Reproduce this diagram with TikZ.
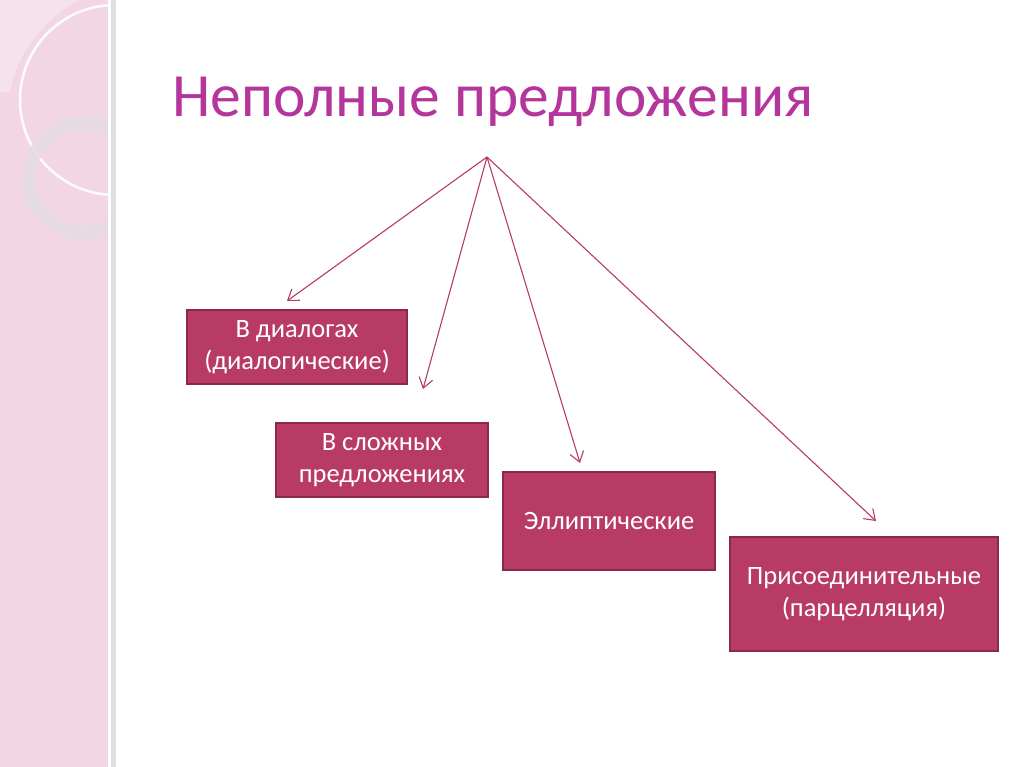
\documentclass[tikz,border=0pt]{standalone}
\usepackage{fontspec}
\setmainfont{Carlito}
\usetikzlibrary{arrows.meta}
\definecolor{boxfill}{HTML}{B83B66}
\definecolor{boxedge}{HTML}{8A2848}
\definecolor{titlecol}{HTML}{B4369C}
\definecolor{stripcol}{HTML}{F3D6E4}
\definecolor{ringcol}{HTML}{E6DCE3}
\tikzset{
  box/.style={draw=boxedge, line width=1.2pt, fill=boxfill, text=white, align=center,
    font=\fontsize{26.5}{32}\selectfont, inner sep=0pt},
  link/.style={draw=boxfill, line width=1.1pt, -{Straight Barb[length=10pt,width=14pt,line width=1.1pt]}},
}
\begin{document}
\begin{tikzpicture}[x=1pt,y=-1pt]
\useasboundingbox (0,0) rectangle (1024,767);
\fill[white] (0,0) rectangle (1024,767);
% left decorative strip
\fill[stripcol] (0,0) rectangle (110,767);
\begin{scope}
  \clip (0,0) rectangle (110,767);
  \fill[white, opacity=0.3] (0,0) -- (80,0) .. controls (40,20) and (15,60) .. (10,92) -- (0,92) -- cycle;
  \draw[white, line width=2.5pt, opacity=0.9] (115,100) circle[radius=95];
  \draw[ringcol, line width=14pt, opacity=0.85] (84,178) circle[radius=55];
\end{scope}
\fill[gray!25] (110,0) rectangle (116,767);
\fill[white] (108,0) rectangle (111,767);
% title
\node[anchor=base west, text=titlecol, font=\fontsize{61.5}{66}\selectfont, inner sep=0pt] (title) at (172,117) {Неполные предложения};
\coordinate (apex) at (487,157);
% boxes
\node[box, minimum width=220pt, minimum height=74pt] (b1) at (297,347) {В диалогах\\(диалогические)};
\node[box, minimum width=212pt, minimum height=74pt] (b2) at (382,460) {В сложных\\предложениях};
\node[box, minimum width=212pt, minimum height=98pt] (b3) at (609,521) {Эллиптические};
\node[box, minimum width=268pt, minimum height=114pt] (b4) at (864,594) {Присоединительные\\(парцелляция)};
% arrow targets
\coordinate (t1) at (287,301);
\coordinate (t2) at (423,389);
\coordinate (t3) at (580,463);
\coordinate (t4) at (876,521);
\draw[link] (apex) -- (t1);
\draw[link] (apex) -- (t2);
\draw[link] (apex) -- (t3);
\draw[link] (apex) -- (t4);
\end{tikzpicture}
\end{document}
